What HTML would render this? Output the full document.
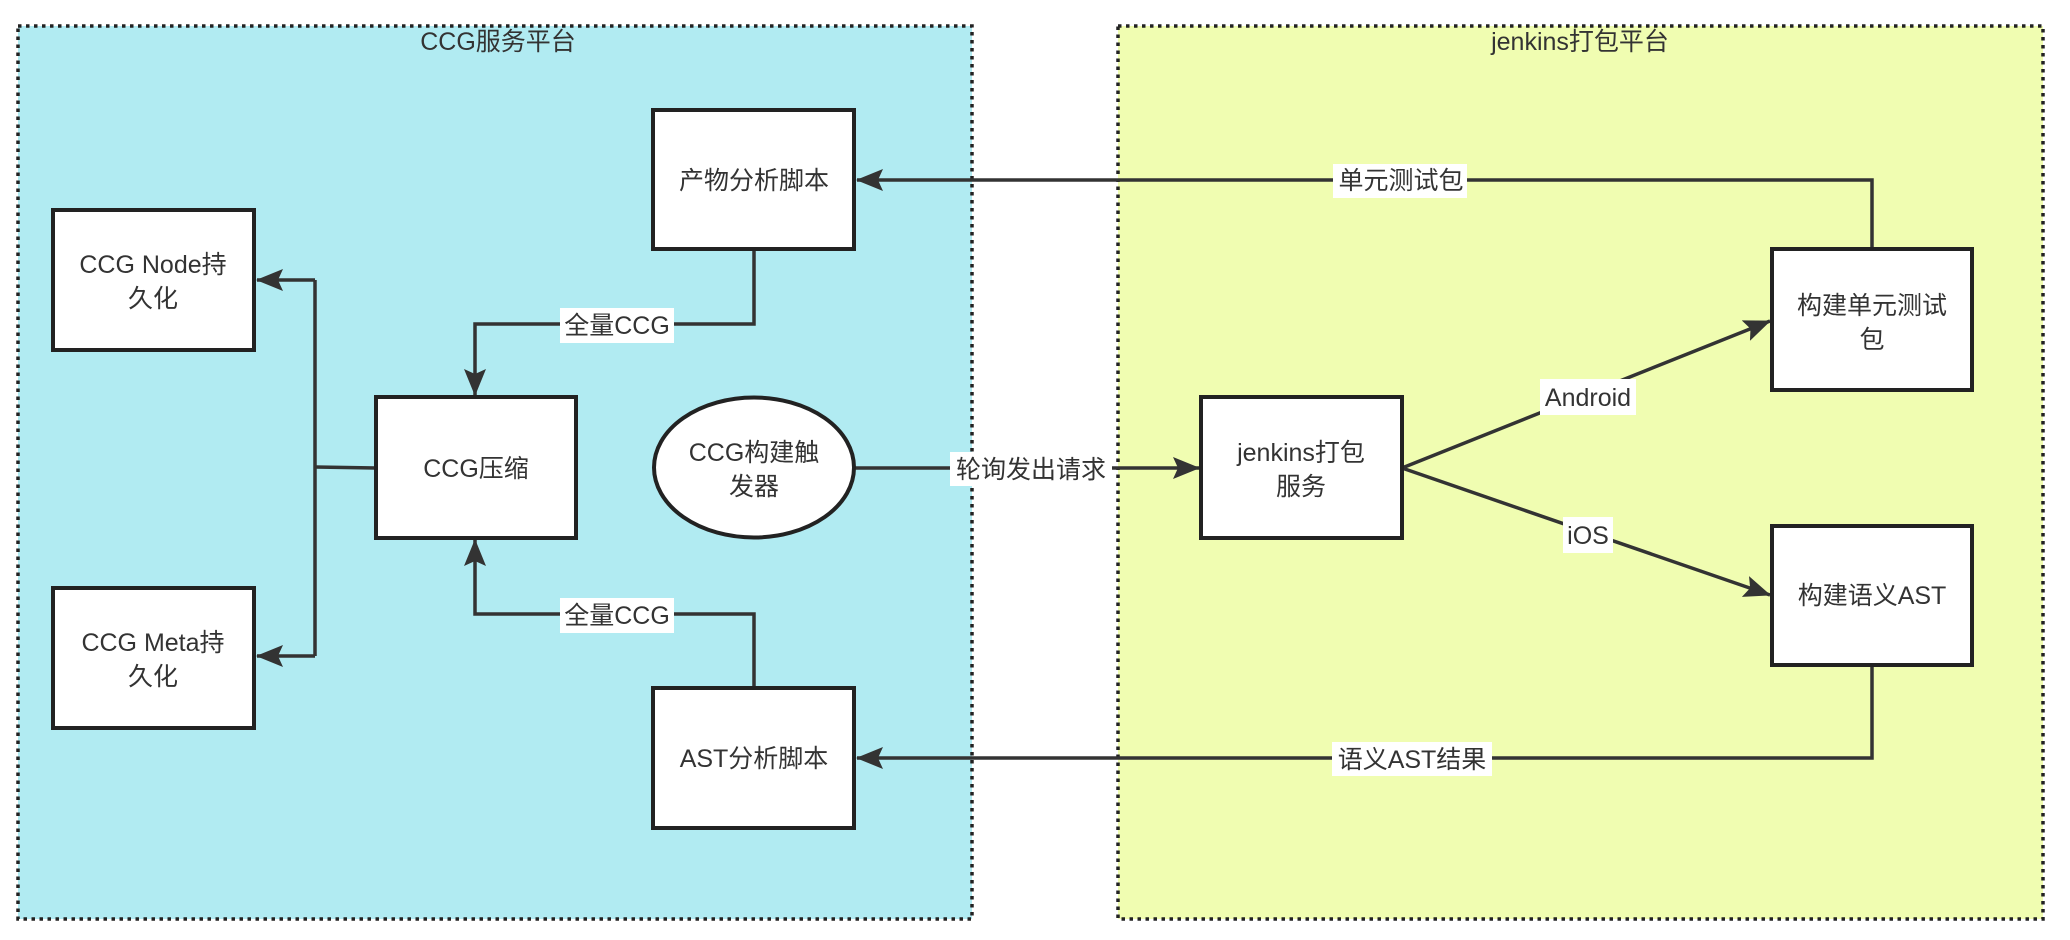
<!DOCTYPE html>
<html><head><meta charset="utf-8"><style>
html,body{margin:0;padding:0;background:#fff;}
svg{display:block;}
text{font-family:"Liberation Sans","Noto Sans CJK SC",sans-serif;font-size:25px;fill:#333;}
</style></head><body>
<svg width="2070" height="940" viewBox="0 0 2070 940" xmlns="http://www.w3.org/2000/svg">
<defs>
<marker id="a" markerWidth="28" markerHeight="22" refX="26" refY="11" orient="auto" markerUnits="userSpaceOnUse">
<path d="M0,0 L27,11 L0,22 L5,11 Z" fill="#333"/>
</marker>
</defs>
<rect x="18" y="26" width="954" height="893" fill="#b1ebf2" stroke="#222" stroke-width="3.5" stroke-dasharray="3.5,4.5"/>
<rect x="1118" y="26" width="925" height="893" fill="#f0fdb1" stroke="#222" stroke-width="3.5" stroke-dasharray="3.5,4.5"/>
<text x="498" y="50" text-anchor="middle">CCG服务平台</text>
<text x="1580" y="50" text-anchor="middle">jenkins打包平台</text>

<g fill="none" stroke="#333" stroke-width="3.5">
<path d="M1872,249 V180 H857" marker-end="url(#a)"/>
<path d="M754,249 V324 H475 V395" marker-end="url(#a)"/>
<path d="M754,688 V614 H475 V540" marker-end="url(#a)"/>
<path d="M376,468 L315,467"/>
<path d="M315,280 V656"/>
<path d="M315,280 H257" marker-end="url(#a)"/>
<path d="M315,656 H257" marker-end="url(#a)"/>
<path d="M854,468 H1199" marker-end="url(#a)"/>
<path d="M1402,468 L1770,321" marker-end="url(#a)"/>
<path d="M1402,468 L1770,595" marker-end="url(#a)"/>
<path d="M1872,665 V758 H857" marker-end="url(#a)"/>
</g>

<g fill="#fff" stroke="#222" stroke-width="4">
<rect x="653" y="110" width="201" height="139"/>
<rect x="53" y="210" width="201" height="140"/>
<rect x="376" y="397" width="200" height="141"/>
<rect x="53" y="588" width="201" height="140"/>
<rect x="653" y="688" width="201" height="140"/>
<ellipse cx="754" cy="467.5" rx="100" ry="70"/>
<rect x="1201" y="397" width="201" height="141"/>
<rect x="1772" y="249" width="200" height="141"/>
<rect x="1772" y="526" width="200" height="139"/>
</g>

<g fill="#fff">
<rect x="1333" y="164" width="134" height="34"/>
<rect x="560" y="308" width="114" height="35"/>
<rect x="560" y="598" width="114" height="35"/>
<rect x="950" y="452" width="162" height="34"/>
<rect x="1540" y="379" width="96" height="36"/>
<rect x="1563" y="517" width="50" height="36"/>
<rect x="1332" y="742" width="160" height="34"/>
</g>

<g text-anchor="middle">
<text x="1401" y="189">单元测试包</text>
<text x="617" y="334">全量CCG</text>
<text x="617" y="624">全量CCG</text>
<text x="1031" y="478">轮询发出请求</text>
<text x="1588" y="406">Android</text>
<text x="1588" y="544">iOS</text>
<text x="1412" y="768">语义AST结果</text>

<text x="754" y="189">产物分析脚本</text>
<text x="153" y="273">CCG Node持</text>
<text x="153" y="307">久化</text>
<text x="476" y="477">CCG压缩</text>
<text x="153" y="651">CCG Meta持</text>
<text x="153" y="685">久化</text>
<text x="754" y="767">AST分析脚本</text>
<text x="754" y="461">CCG构建触</text>
<text x="754" y="495">发器</text>
<text x="1301" y="461">jenkins打包</text>
<text x="1301" y="495">服务</text>
<text x="1872" y="314">构建单元测试</text>
<text x="1872" y="348">包</text>
<text x="1872" y="604">构建语义AST</text>
</g>
</svg>
</body></html>
